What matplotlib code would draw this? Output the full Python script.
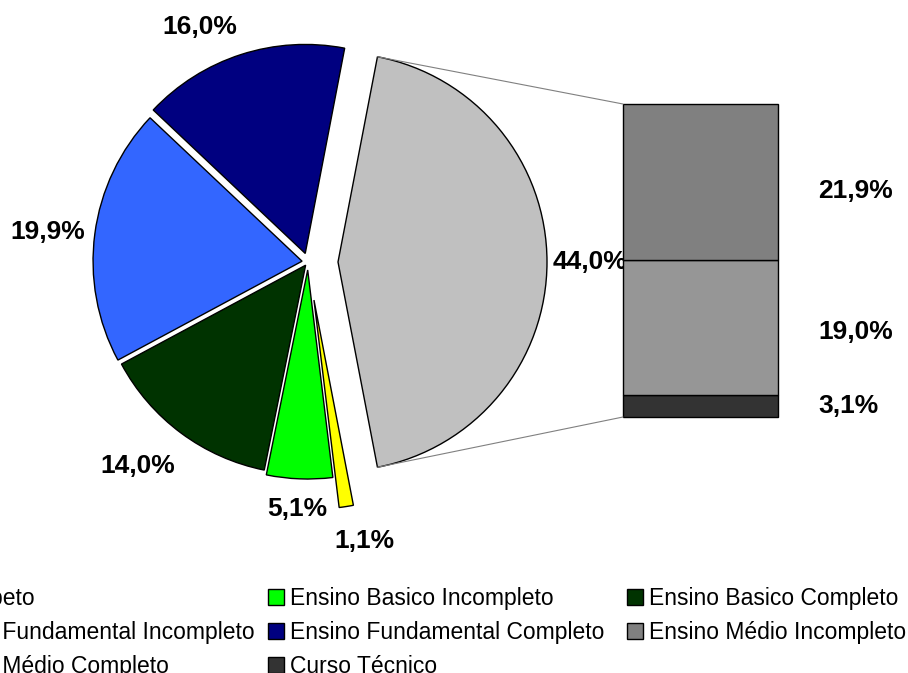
import numpy as np
import matplotlib
matplotlib.use('Agg')
import matplotlib.pyplot as plt
from matplotlib.patches import ConnectionPatch

plt.rcParams['font.family'] = 'Liberation Sans'

# pie slices, clockwise from the bottom; the last one is split out into the bar
pie_labels = ['Analfabeto', 'Ensino Basico Incompleto', 'Ensino Basico Completo',
              'Ensino Fundamental Incompleto', 'Ensino Fundamental Completo', 'Outros']
pie_values = [1.1, 5.1, 14.0, 19.9, 16.0, 44.0]
pie_colors = ['#FFFF00', '#00FF00', '#003300', '#3366FF', '#000080', '#C0C0C0']

# breakdown of the 44% slice, bottom to top
bar_labels = ['Curso Técnico', 'Ensino Médio Completo', 'Ensino Médio Incompleto']
bar_values = [3.1, 19.0, 21.9]
bar_colors = ['#333333', '#969696', '#808080']


def pct(v):
    return ('%.1f%%' % v).replace('.', ',')


W, H = 908, 673
fig = plt.figure(figsize=(W / 100, H / 100), dpi=100)
ax = fig.add_axes([0, 0, 1, 1])

R = 209
center = (308, H - 262)
explode = [38.5, 8, 4, 6, 9, 30]
# put the split-out slice centred on the right
start = 360 - 180 * pie_values[-1] / sum(pie_values)

wedges, _ = ax.pie(pie_values, colors=pie_colors, explode=explode, radius=R,
                   center=center, startangle=start, counterclock=False,
                   wedgeprops=dict(edgecolor='black', linewidth=1.0))
ax.set_xlim(0, W)
ax.set_ylim(0, H)
ax.set_aspect('equal')
ax.axis('off')

# percentage labels around the pie
lab_dist = [1.179, 1.145, 1.252, 1.223, 1.194, 1.206]
lab_turn = [3.0, -0.35, -3.25, 0.95, 7.0, 0.0]
for w, v, d, t in zip(wedges, pie_values, lab_dist, lab_turn):
    a = np.deg2rad((w.theta1 + w.theta2) / 2 + t)
    x0, y0 = w.center
    ax.text(x0 + d * w.r * np.cos(a), y0 + d * w.r * np.sin(a), pct(v),
            ha='center', va='center', fontsize=19, fontweight='bold')

# stacked bar of the split-out slice
bx = fig.add_axes([623 / W, (H - 417) / H, 155 / W, 313 / H])
bars = []
bottom = 0
lab_shift = [0, 0.6, 1.3]   # small upward nudges, as in the original
for v, c, s in zip(bar_values, bar_colors, lab_shift):
    b = bx.bar(0, v, width=1, bottom=bottom, color=c, edgecolor='black',
               linewidth=1, clip_on=False)
    bars.append(b[0])
    bx.text(1.258, bottom + v / 2 - s, pct(v), transform=bx.get_yaxis_transform(),
            ha='left', va='center', fontsize=19, fontweight='bold')
    bottom += v
bx.set_xlim(-0.5, 0.5)
bx.set_ylim(0, sum(bar_values))
bx.axis('off')

# connector lines from the slice to the bar
other = wedges[-1]
for ang, yb in [(other.theta2, 1), (other.theta1, 0)]:
    a = np.deg2rad(ang)
    p = (other.center[0] + R * np.cos(a), other.center[1] + R * np.sin(a))
    con = ConnectionPatch(xyA=p, coordsA=ax.transData, xyB=(0, yb), coordsB=bx.transAxes,
                          color='#808080', lw=0.8)
    fig.add_artist(con)

# legend, three equal-width columns (first one runs off the left edge)
cols = [[(wedges[0], pie_labels[0]), (wedges[3], pie_labels[3]), (bars[1], bar_labels[1])],
        [(wedges[1], pie_labels[1]), (wedges[4], pie_labels[4]), (bars[0], bar_labels[0])],
        [(wedges[2], pie_labels[2]), (bars[2], bar_labels[2])]]
col_x = [-96, 268, 627]
for xs, items in zip(col_x, cols):
    fig.legend([h for h, _ in items], [l for _, l in items], loc='upper left',
               bbox_to_anchor=(xs / W, 1 - 587 / H), frameon=False, fontsize=16.5,
               borderpad=0, borderaxespad=0, handlelength=0.7, handleheight=0.7,
               handletextpad=0.25, labelspacing=0.49)

fig.savefig('out.png', dpi=100)
